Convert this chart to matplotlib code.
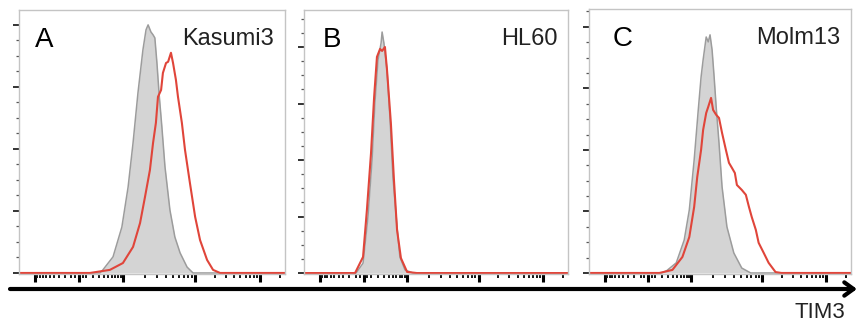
import matplotlib.pyplot as plt
import numpy as np
from matplotlib.patches import FancyArrowPatch

plt.rcParams['font.family'] = ['Liberation Sans', 'DejaVu Sans']

# display channel (0-1024) vs cell count
kas_iso_x = [0, 312, 323, 362, 396, 420, 439, 458, 477, 489, 497, 508, 516, 523, 531, 539, 550, 562, 581, 600, 620, 647, 670, 1024]
kas_iso_y = [0, 0, 1.0, 5.2, 14.8, 27.7, 41.9, 58.1, 71.9, 78.4, 80.0, 77.7, 76.8, 75.8, 67.7, 58.1, 47.1, 34.2, 20.3, 11.6, 6.5, 1.9, 0, 0]
kas_tim_x = [0, 273, 350, 400, 439, 466, 485, 504, 516, 527, 535, 547, 554, 566, 574, 585, 593, 604, 612, 627, 639, 658, 678, 697, 724, 747, 774, 1024]
kas_tim_y = [0, 0, 1.0, 3.2, 8.4, 16.1, 24.5, 33.2, 41.9, 48.4, 56.8, 59.0, 64.5, 67.7, 68.1, 71.0, 67.7, 62.3, 56.8, 48.4, 39.7, 29.0, 18.1, 10.6, 4.2, 1.0, 0, 0]

hl_iso_x = [0, 202, 229, 248, 264, 275, 287, 299, 303, 310, 322, 334, 345, 361, 372, 392, 423, 1024]
hl_iso_y = [0, 0, 3.5, 19.8, 40.0, 60.2, 75.4, 81.4, 85.3, 81.4, 71.9, 54.2, 34.0, 16.3, 5.7, 1.1, 0, 0]
hl_tim_x = [0, 198, 229, 244, 260, 272, 283, 295, 303, 314, 322, 337, 349, 361, 376, 400, 438, 1024]
hl_tim_y = [0, 0, 5.7, 22.3, 42.5, 62.3, 76.5, 79.3, 78.6, 80.0, 71.9, 53.1, 32.9, 15.2, 5.3, 0.4, 0, 0]

mo_iso_x = [0, 283, 303, 341, 372, 392, 411, 427, 438, 446, 458, 466, 473, 481, 489, 497, 508, 520, 539, 566, 597, 632, 1024]
mo_iso_y = [0, 0, 0.7, 3.3, 10.7, 20.5, 36.8, 53.0, 63.7, 69.3, 76.7, 75.1, 77.4, 72.5, 63.7, 54.0, 42.3, 28.0, 15.0, 6.5, 1.6, 0, 0]
mo_tim_x = [0, 275, 326, 365, 392, 411, 423, 438, 446, 458, 466, 477, 485, 497, 508, 520, 535, 547, 559, 570, 578, 597, 613, 625, 636, 652, 663, 683, 702, 729, 752, 1024]
mo_tim_y = [0, 0, 1.0, 5.2, 11.7, 21.5, 31.2, 40.0, 46.5, 52.0, 54.0, 56.9, 53.0, 51.4, 50.4, 45.5, 40.0, 35.8, 34.1, 32.5, 28.6, 27.0, 25.4, 21.5, 18.2, 14.0, 9.8, 6.5, 3.3, 0.3, 0, 0]

letters = ['A', 'B', 'C']
cells = ['Kasumi3', 'HL60', 'Molm13']
ymax = [84.8, 93.1, 85.8]

major_vals = [-100, 0, 100, 1000, 10000]
minor_vals = ([-v for v in range(10, 100, 10)] + list(range(10, 100, 10)) + [-5, 5] +
              list(range(200, 1000, 100)) + list(range(2000, 10000, 1000)) + [20000])


def chan(v):
    # biexponential display scale of the cytometer
    v = np.asarray(v, float)
    out = np.empty_like(v)
    small = np.abs(v) < 100
    out[small] = 0.2255 + 0.1655 * np.arcsinh(v[small] / 30) / np.arcsinh(100 / 30)
    pos = np.interp(np.log10(np.abs(v[~small])), [2, 3, 4, 5], [0.391, 0.662, 0.906, 1.15])
    out[~small] = np.where(v[~small] > 0, pos, 0.451 - pos)
    return out * 1024


fig = plt.figure(figsize=(8.59, 3.22), dpi=100)
boxes = [[0.0221, 0.1491, 0.3097, 0.8199],
         [0.3539, 0.1491, 0.3073, 0.8199],
         [0.6857, 0.1491, 0.3050, 0.8230]]
data = [(kas_iso_x, kas_iso_y, kas_tim_x, kas_tim_y),
        (hl_iso_x, hl_iso_y, hl_tim_x, hl_tim_y),
        (mo_iso_x, mo_iso_y, mo_tim_x, mo_tim_y)]
letter_x = [0.06, 0.072, 0.092]

for i in range(3):
    ax = fig.add_axes(boxes[i])
    ix, iy, tx, ty = data[i]
    ax.fill_between(ix, iy, 0, color='#d4d4d4', lw=0)
    ax.plot(ix, iy, color='#9c9c9c', lw=1.1)
    ax.plot(tx, ty, color='#e0453a', lw=1.5)
    ax.set_xlim(0, 1024)
    ax.set_ylim(-0.33, ymax[i])
    ax.set_xticks(chan(major_vals))
    ax.set_xticks(chan(minor_vals), minor=True)
    ax.set_yticks(np.arange(0, ymax[i], 20))
    ax.set_yticks(np.arange(0, ymax[i], 5), minor=True)
    ax.set_xticklabels([])
    ax.set_yticklabels([])
    ax.tick_params(axis='x', which='major', direction='out', length=5.5, width=2.2, color='black')
    ax.tick_params(axis='x', which='minor', direction='out', length=3.2, width=1.4, color='#111111')
    ax.tick_params(axis='y', which='major', direction='out', length=4, width=1.4, color='#333333', pad=1)
    ax.tick_params(axis='y', which='minor', direction='out', length=2.5, width=0.9, color='#555555')
    for s in ax.spines.values():
        s.set_color('#c4c4c4')
        s.set_linewidth(1)
    ax.text(letter_x[i], 0.86, letters[i], transform=ax.transAxes, fontsize=20,
            color='black', ha='left', va='baseline')
    ax.text(0.959, 0.867, cells[i], transform=ax.transAxes, fontsize=17,
            color='#222222', ha='right', va='baseline')

arrow = FancyArrowPatch((10 / 859, 33 / 322), (857 / 859, 33 / 322), transform=fig.transFigure,
                        arrowstyle='->,head_length=0.55,head_width=0.4', mutation_scale=12,
                        lw=3, color='black', shrinkA=0, shrinkB=0)
fig.add_artist(arrow)
fig.text(845 / 859, 4 / 322, 'TIM3', fontsize=16, color='#222222', ha='right', va='baseline')

fig.savefig('out.png', dpi=100)
